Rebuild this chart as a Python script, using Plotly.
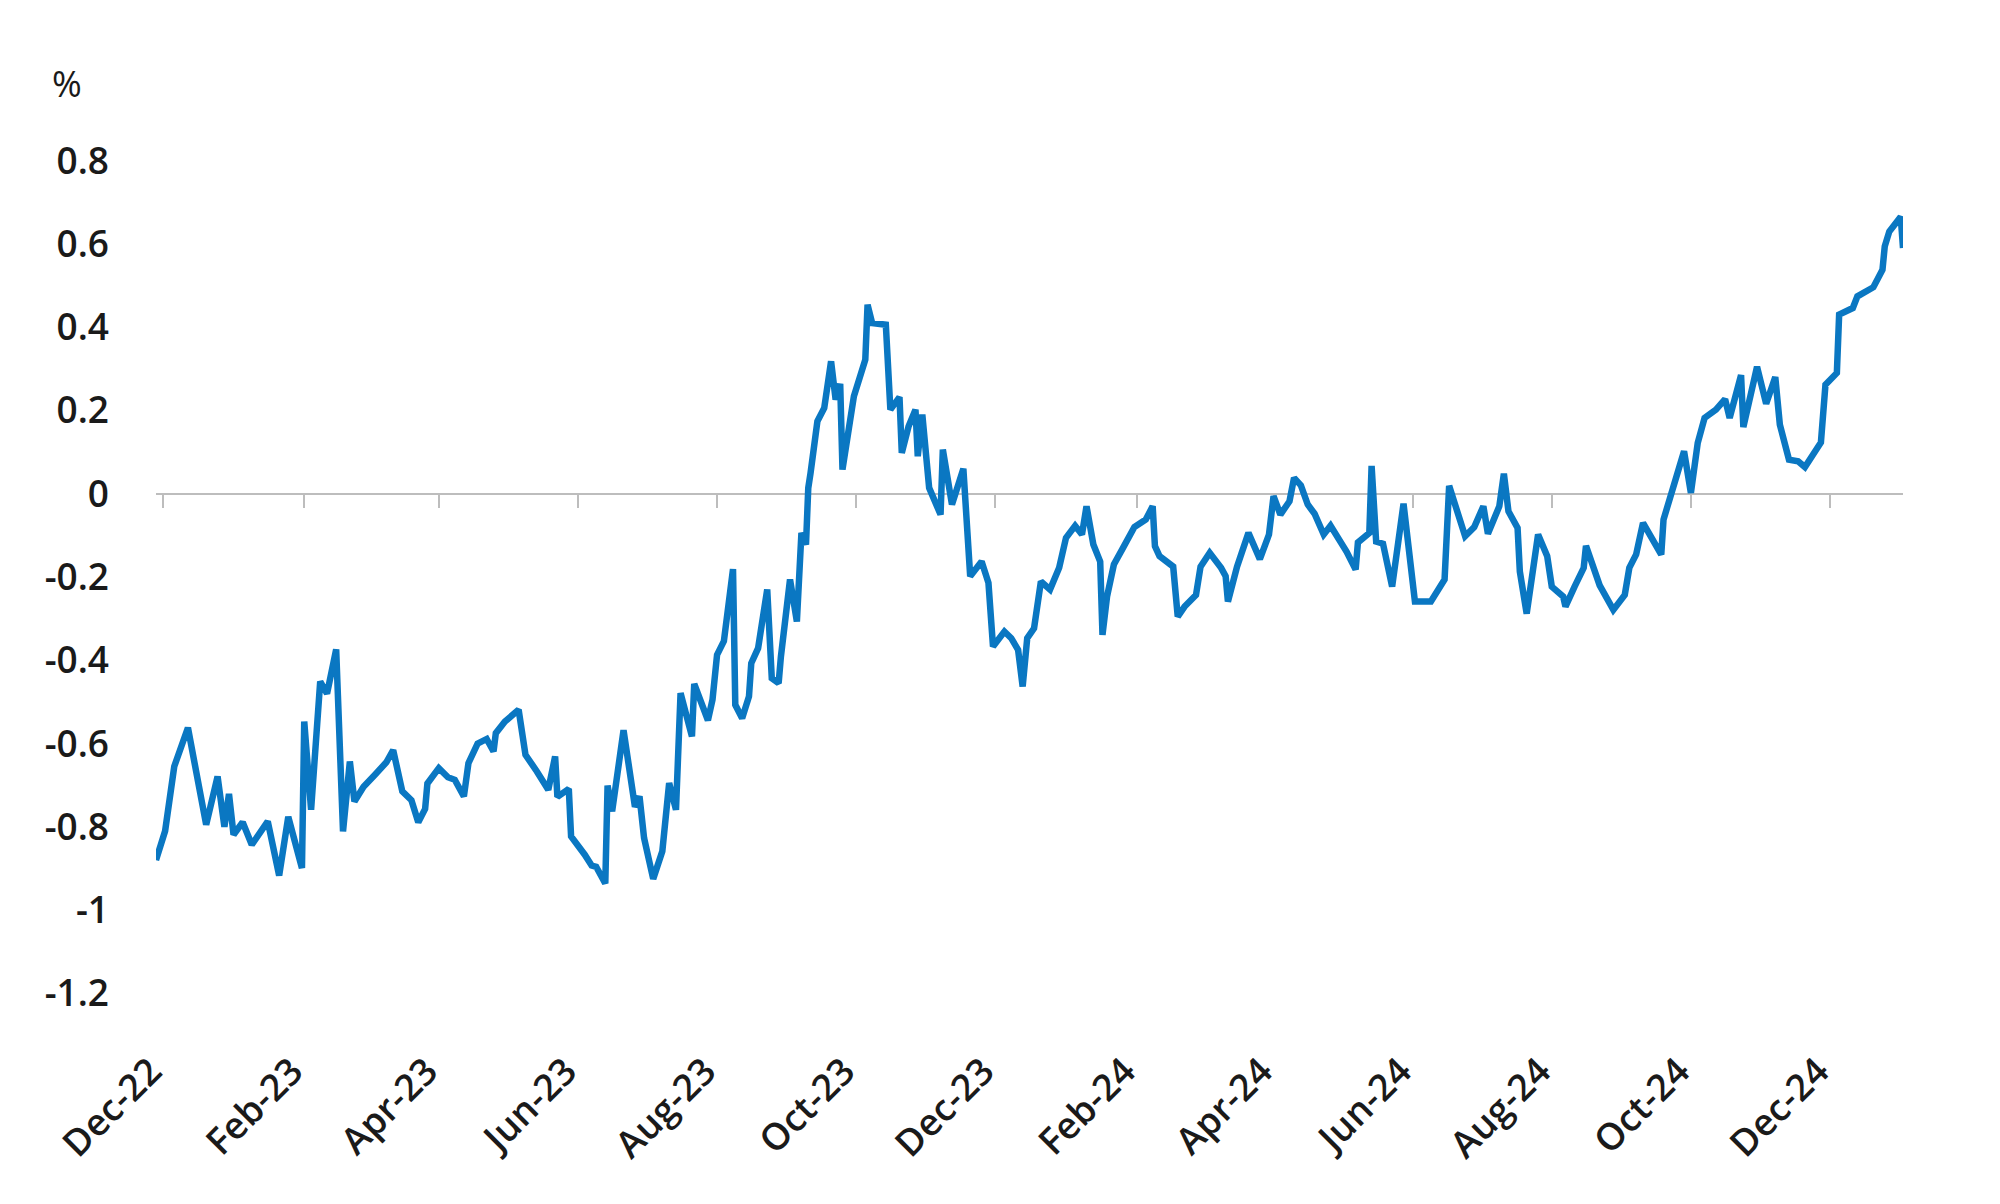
import plotly.graph_objects as go

dates = [
    "2022-11-28", "2022-12-02", "2022-12-06", "2022-12-12", "2022-12-20", "2022-12-25", "2022-12-28", "2022-12-30",
    "2023-01-01", "2023-01-05", "2023-01-09", "2023-01-16", "2023-01-21", "2023-01-25", "2023-01-31",
    "2023-02-01", "2023-02-04", "2023-02-08", "2023-02-11", "2023-02-15", "2023-02-18", "2023-02-21", "2023-02-23", "2023-02-27",
    "2023-03-04", "2023-03-09", "2023-03-12", "2023-03-16", "2023-03-20", "2023-03-23", "2023-03-26", "2023-03-27",
    "2023-04-01", "2023-04-05", "2023-04-08", "2023-04-12", "2023-04-14", "2023-04-18", "2023-04-22", "2023-04-25", "2023-04-26", "2023-04-30",
    "2023-05-06", "2023-05-09", "2023-05-14", "2023-05-19", "2023-05-22", "2023-05-23", "2023-05-28", "2023-05-29",
    "2023-06-04", "2023-06-07", "2023-06-09", "2023-06-13", "2023-06-14", "2023-06-16", "2023-06-21", "2023-06-26", "2023-06-28", "2023-06-30",
    "2023-07-04", "2023-07-08", "2023-07-11", "2023-07-14", "2023-07-16", "2023-07-21", "2023-07-22", "2023-07-28", "2023-07-30",
    "2023-08-01", "2023-08-04", "2023-08-08", "2023-08-09", "2023-08-12", "2023-08-15", "2023-08-16", "2023-08-19", "2023-08-23", "2023-08-25", "2023-08-28", "2023-08-29",
    "2023-09-02", "2023-09-05", "2023-09-07", "2023-09-09", "2023-09-10", "2023-09-11", "2023-09-12", "2023-09-14", "2023-09-17", "2023-09-20", "2023-09-22", "2023-09-24", "2023-09-25", "2023-09-27", "2023-09-30",
    "2023-10-05", "2023-10-06", "2023-10-08", "2023-10-14", "2023-10-16", "2023-10-20", "2023-10-21", "2023-10-24", "2023-10-27", "2023-10-28", "2023-10-30",
    "2023-11-02", "2023-11-07", "2023-11-08", "2023-11-12", "2023-11-17", "2023-11-20", "2023-11-25", "2023-11-28", "2023-11-30",
    "2023-12-05", "2023-12-08", "2023-12-11", "2023-12-13", "2023-12-15", "2023-12-18", "2023-12-21", "2023-12-25", "2023-12-29",
    "2024-01-01", "2024-01-05", "2024-01-08", "2024-01-10", "2024-01-13", "2024-01-16", "2024-01-17", "2024-01-19", "2024-01-22", "2024-01-26", "2024-01-31",
    "2024-02-05", "2024-02-08", "2024-02-09", "2024-02-11", "2024-02-17", "2024-02-19", "2024-02-22", "2024-02-27", "2024-02-29",
    "2024-03-04", "2024-03-09", "2024-03-11", "2024-03-12", "2024-03-16", "2024-03-21", "2024-03-26", "2024-03-30",
    "2024-04-01", "2024-04-04", "2024-04-08", "2024-04-10", "2024-04-13", "2024-04-16", "2024-04-19", "2024-04-23", "2024-04-26",
    "2024-05-03", "2024-05-07", "2024-05-08", "2024-05-13", "2024-05-14", "2024-05-16", "2024-05-19", "2024-05-23", "2024-05-28",
    "2024-06-02", "2024-06-09", "2024-06-15", "2024-06-17", "2024-06-24", "2024-06-28",
    "2024-07-02", "2024-07-04", "2024-07-09", "2024-07-11", "2024-07-13", "2024-07-17", "2024-07-18", "2024-07-21", "2024-07-26", "2024-07-30",
    "2024-08-01", "2024-08-06", "2024-08-07", "2024-08-11", "2024-08-15", "2024-08-16", "2024-08-22", "2024-08-28",
    "2024-09-02", "2024-09-04", "2024-09-07", "2024-09-10", "2024-09-18", "2024-09-19", "2024-09-22", "2024-09-28",
    "2024-10-01", "2024-10-04", "2024-10-07", "2024-10-12", "2024-10-16", "2024-10-18", "2024-10-23", "2024-10-24", "2024-10-30",
    "2024-11-03", "2024-11-07", "2024-11-09", "2024-11-13", "2024-11-17", "2024-11-20", "2024-11-23", "2024-11-27", "2024-11-29",
    "2024-12-04", "2024-12-05", "2024-12-11", "2024-12-13", "2024-12-20", "2024-12-24", "2024-12-25", "2024-12-27",
    "2025-01-01", "2025-01-02",
]

values = [
    -0.88, -0.81, -0.655, -0.562, -0.795, -0.679, -0.80, -0.721,
    -0.819, -0.789, -0.843, -0.787, -0.917, -0.776, -0.899,
    -0.547, -0.759, -0.451, -0.480, -0.374, -0.811, -0.643, -0.739, -0.704,
    -0.675, -0.645, -0.616, -0.715, -0.736, -0.789, -0.757, -0.696,
    -0.659, -0.681, -0.687, -0.727, -0.647, -0.600, -0.589, -0.619, -0.575, -0.547,
    -0.519, -0.627, -0.667, -0.711, -0.631, -0.728, -0.709, -0.823,
    -0.867, -0.893, -0.896, -0.936, -0.701, -0.763, -0.568, -0.752, -0.727, -0.827,
    -0.925, -0.859, -0.695, -0.759, -0.479, -0.583, -0.457, -0.544, -0.495,
    -0.387, -0.354, -0.181, -0.507, -0.539, -0.487, -0.407, -0.371, -0.230, -0.443, -0.455, -0.391,
    -0.206, -0.307, -0.094, -0.122, 0.014, 0.050, 0.102, 0.174, 0.206, 0.318, 0.226, 0.264, 0.058, 0.138, 0.234,
    0.322, 0.454, 0.410, 0.406, 0.202, 0.232, 0.098, 0.162, 0.202, 0.090, 0.190,
    0.014, -0.050, 0.106, -0.026, 0.060, -0.198, -0.163, -0.214, -0.367,
    -0.331, -0.347, -0.375, -0.463, -0.347, -0.323, -0.211, -0.230, -0.178,
    -0.106, -0.077, -0.098, -0.030, -0.122, -0.163, -0.339, -0.247, -0.170, -0.130, -0.080,
    -0.062, -0.030, -0.126, -0.150, -0.175, -0.295, -0.271, -0.243, -0.175,
    -0.142, -0.178, -0.198, -0.259, -0.175, -0.094, -0.157, -0.098,
    -0.006, -0.050, -0.018, 0.038, 0.020, -0.026, -0.048, -0.098, -0.077,
    -0.139, -0.182, -0.117, -0.094, 0.067, -0.115, -0.120, -0.223, -0.024,
    -0.259, -0.259, -0.206, 0.019, -0.102, -0.080,
    -0.030, -0.096, -0.030, 0.048, -0.042, -0.082, -0.187, -0.288, -0.098, -0.150,
    -0.223, -0.247, -0.271, -0.223, -0.178, -0.125, -0.220, -0.279,
    -0.243, -0.178, -0.146, -0.070, -0.146, -0.062, -0.010, 0.102,
    0.002, 0.122, 0.182, 0.202, 0.227, 0.182, 0.285, 0.160, 0.305,
    0.216, 0.280, 0.166, 0.082, 0.078, 0.064, 0.090, 0.123, 0.262,
    0.290, 0.430, 0.446, 0.474, 0.496, 0.538, 0.594, 0.630,
    0.665, 0.590,
]

tick_dates = ["2022-12-01", "2023-02-01", "2023-04-01", "2023-06-01", "2023-08-01", "2023-10-01",
              "2023-12-01", "2024-02-01", "2024-04-01", "2024-06-01", "2024-08-01", "2024-10-01", "2024-12-01"]
tick_labels = ["Dec-22", "Feb-23", "Apr-23", "Jun-23", "Aug-23", "Oct-23",
               "Dec-23", "Feb-24", "Apr-24", "Jun-24", "Aug-24", "Oct-24", "Dec-24"]
y_ticks = [0.8, 0.6, 0.4, 0.2, 0, -0.2, -0.4, -0.6, -0.8, -1, -1.2]
y_tick_labels = ["0.8", "0.6", "0.4", "0.2", "0", "-0.2", "-0.4", "-0.6", "-0.8", "-1", "-1.2"]
y_unit = "%"

Y_MIN, Y_MAX = -1.3, 0.9
zero_pos = (0 - Y_MIN) / (Y_MAX - Y_MIN)
x_range = [dates[0], dates[-1]]

fig = go.Figure()
fig.add_trace(go.Scatter(
    x=dates, y=values, mode="lines",
    line=dict(color="#0a77c2", width=6.5),
    hoverinfo="skip", showlegend=False,
))
# invisible helper trace that carries the bottom label axis
fig.add_trace(go.Scatter(
    x=x_range, y=[0, 0], xaxis="x2", mode="lines",
    line=dict(width=0), opacity=0, hoverinfo="skip", showlegend=False,
))

fig.update_layout(
    width=2000, height=1204,
    margin=dict(l=156, r=97, t=119, b=169),
    paper_bgcolor="white", plot_bgcolor="white",
    font=dict(family="Open Sans", color="#1a1a1a"),
    xaxis=dict(
        type="date", range=x_range,
        anchor="free", position=zero_pos,
        showgrid=False, zeroline=False,
        showline=True, linecolor="#bdbdbd", linewidth=2,
        ticks="outside", ticklen=13, tickwidth=1.5, tickcolor="#bdbdbd",
        tickvals=tick_dates, showticklabels=False,
        layer="below traces",
    ),
    xaxis2=dict(
        type="date", range=x_range, overlaying="x", matches="x",
        anchor="y", side="bottom",
        showgrid=False, zeroline=False, showline=False, ticks="",
        tickvals=tick_dates, ticktext=tick_labels,
        tickangle=-45,
        tickfont=dict(family="Open Sans", size=37, color="#1a1a1a", weight=600),
        ticklabelstandoff=6,
        ticklabelshift=-12,
    ),
    yaxis=dict(
        range=[Y_MIN, Y_MAX],
        showgrid=False, zeroline=False, showline=False,
        ticks="", tickvals=y_ticks, ticktext=y_tick_labels,
        tickfont=dict(family="Open Sans", size=37, color="#1a1a1a", weight=600),
        ticklabelstandoff=46,
    ),
    annotations=[dict(
        text=y_unit, xref="paper", yref="paper",
        x=-106 / 1747, y=(1035.5 - 84) / 916.3,
        xanchor="left", yanchor="middle", showarrow=False,
        font=dict(family="Open Sans", size=36, color="#1a1a1a"),
    )],
)

fig.write_html("out.html")
